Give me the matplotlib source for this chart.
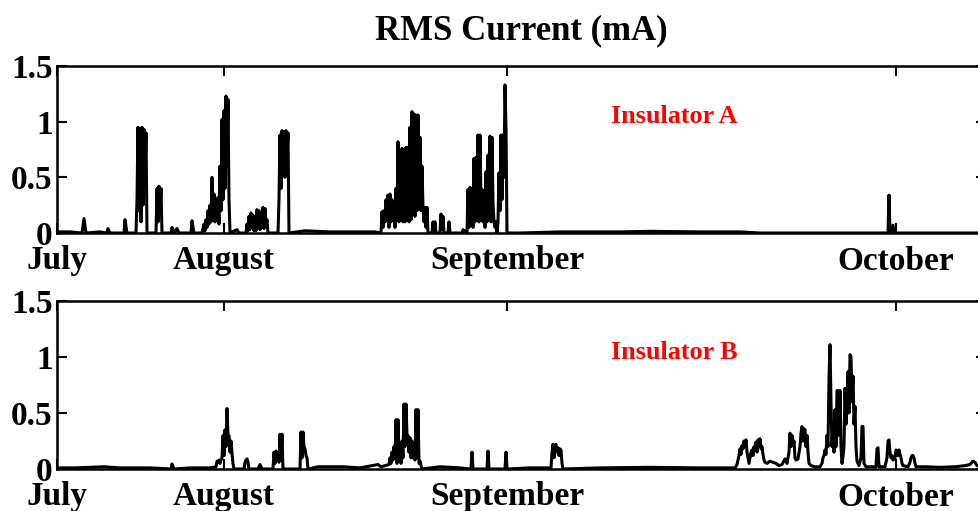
import numpy as np
import matplotlib
matplotlib.use("Agg")
import matplotlib.pyplot as plt

# RMS leakage current of two insulators, July - October
# x is the record number, y is the RMS current in mA
t_a = [0, 13, 25, 27, 29, 43, 50, 51, 53, 67, 68, 70,
       79, 80, 81, 82, 83, 84, 85, 86, 87, 88, 89, 90,
       99, 100, 101, 102, 103, 104, 105, 114, 115, 117, 120, 122, 134, 135, 137,
       145, 147, 148, 149, 150, 151, 152, 153, 154, 155, 156, 157, 158, 159, 160,
       161, 162, 163, 164, 165, 166, 167, 168, 169, 170, 171, 172, 173, 180, 182,
       189, 190, 191, 192, 193, 194, 195, 196, 197, 198, 199, 200, 201, 202, 203,
       204, 205, 206, 207, 208, 209, 210, 211,
       221, 222, 223, 224, 225, 226, 227, 228, 229, 230, 231, 232,
       248, 273, 303, 318, 324, 325, 326, 327, 328, 329, 330, 331, 332, 333, 334,
       335, 336, 337, 338, 339, 340, 341, 342, 343, 344, 345, 346, 347, 348, 349,
       350, 351, 352, 353, 354, 355, 356, 357, 358, 359, 360, 361, 362, 363, 364,
       365, 366, 367, 368, 369, 370, 371, 375, 376, 377, 378, 379, 383, 384, 385,
       386, 387, 391, 392, 393, 405, 406, 410, 411, 412, 413, 414, 415, 416, 417,
       418, 419, 420, 421, 422, 423, 424, 425, 426, 427, 428, 429, 430, 431, 432,
       433, 434, 435, 436, 437, 438, 439, 440, 441, 442, 443, 444, 445, 446, 447,
       448, 449, 450, 463, 503, 563, 593, 643, 683, 703, 831, 832, 833, 836, 837,
       929]
rms_a = [0.01, 0.01, 0.0, 0.13, 0.0, 0.01, 0.0, 0.04, 0.0, 0.0, 0.12, 0.0,
         0.0, 0.3, 0.95, 0.2, 0.94, 0.1, 0.95, 0.25, 0.93, 0.5, 0.9, 0.0,
         0.0, 0.4, 0.1, 0.42, 0.2, 0.4, 0.0, 0.0, 0.05, 0.0, 0.04, 0.0, 0.0, 0.11, 0.0,
         0.0, 0.08, 0.02, 0.12, 0.05, 0.2, 0.08, 0.25, 0.1, 0.5, 0.12, 0.35, 0.1, 0.3, 0.12,
         0.32, 0.08, 0.6, 0.2, 1.02, 0.3, 1.1, 0.4, 1.23, 0.6, 1.2, 0.3, 0.0, 0.03, 0.0,
         0.0, 0.08, 0.02, 0.15, 0.03, 0.18, 0.05, 0.16, 0.02, 0.1, 0.02, 0.21, 0.05, 0.2, 0.03,
         0.15, 0.05, 0.23, 0.04, 0.22, 0.08, 0.12, 0.0,
         0.0, 0.3, 0.88, 0.4, 0.92, 0.6, 0.91, 0.5, 0.92, 0.7, 0.9, 0.0,
         0.02, 0.01, 0.01, 0.01, 0.0, 0.19, 0.05, 0.2, 0.1, 0.3, 0.15, 0.34, 0.05, 0.35, 0.1,
         0.3, 0.15, 0.25, 0.05, 0.4, 0.12, 0.82, 0.1, 0.7, 0.15, 0.76, 0.1, 0.75, 0.1, 0.77,
         0.12, 0.77, 0.1, 0.95, 0.12, 1.09, 0.2, 1.07, 0.15, 1.06, 0.2, 1.06, 0.25, 0.86, 0.2,
         0.6, 0.23, 0.1, 0.23, 0.05, 0.23, 0.0, 0.0, 0.1, 0.02, 0.1, 0.0, 0.0, 0.17, 0.03,
         0.15, 0.0, 0.0, 0.1, 0.0, 0.0, 0.03, 0.0, 0.39, 0.05, 0.41, 0.1, 0.4, 0.05, 0.67,
         0.1, 0.68, 0.2, 0.88, 0.1, 0.88, 0.3, 0.39, 0.1, 0.38, 0.05, 0.55, 0.1, 0.7, 0.2,
         0.87, 0.1, 0.86, 0.26, 0.1, 0.05, 0.1, 0.0, 0.1, 0.54, 0.2, 0.88, 0.3, 0.88, 0.5,
         1.33, 0.94, 0.0, 0.0, 0.01, 0.01, 0.015, 0.01, 0.01, 0.0, 0.0, 0.34, 0.0, 0.07, 0.0,
         0.0]

t_b = [0, 18, 33, 47, 63, 78, 93, 114, 115, 117, 133, 153,
       159, 160, 161, 162, 163, 164, 165, 166, 167, 168, 169, 170, 171, 172, 173, 174,
       175, 176, 177, 187, 188, 189, 190, 191, 192, 201, 203, 205,
       216, 217, 218, 219, 220, 221, 222, 223, 224, 225, 226,
       243, 244, 245, 246, 247, 248, 249, 250, 251, 261, 286, 303, 321, 324, 328,
       332, 333, 334, 335, 336, 337, 338, 339, 340, 341, 342, 343, 344, 345, 346,
       347, 348, 349, 350, 351, 352, 353, 354, 355, 356, 357, 358, 359, 360, 361,
       362, 363, 364, 365, 383, 403, 414, 415, 416, 430, 431, 432, 448, 449, 450,
       473, 494, 495, 496, 497, 498, 499, 500, 501, 502, 503, 504, 505, 506,
       543, 593, 643, 678, 680, 682, 683, 684, 685, 686, 687, 688, 689, 690, 691,
       692, 693, 694, 695, 696, 697, 698, 699, 700, 701, 702, 703, 704, 705, 706,
       707, 708, 710, 713, 716, 719, 722, 725, 728, 730, 732, 733, 734, 735, 736,
       737, 738, 739, 741, 743, 744, 745, 746, 747, 748, 749, 750, 751, 752, 754,
       758, 763, 765, 766, 767, 768, 769, 770, 771, 772, 773, 774, 775, 776, 777,
       778, 779, 780, 781, 782, 783, 784, 785, 786, 787, 788, 789, 790, 791, 792,
       793, 794, 795, 796, 797, 798, 799, 800, 802, 804, 805, 806, 807, 809, 813,
       819, 820, 821, 822, 828, 830, 831, 832, 833, 834, 835, 836, 838, 839, 840,
       841, 842, 843, 844, 845, 846, 851, 853, 854, 855, 856, 857, 858, 859, 868,
       883, 898, 908, 913, 916, 918, 920, 929]
rms_b = [0.01, 0.01, 0.015, 0.02, 0.01, 0.01, 0.01, 0.0, 0.045, 0.0, 0.01, 0.01,
         0.02, 0.07, 0.06, 0.08, 0.05, 0.08, 0.1, 0.3, 0.12, 0.35, 0.2, 0.54, 0.3, 0.3, 0.15, 0.25,
         0.14, 0.05, 0.0, 0.0, 0.06, 0.08, 0.09, 0.06, 0.0, 0.0, 0.04, 0.0,
         0.0, 0.15, 0.05, 0.16, 0.08, 0.1, 0.06, 0.31, 0.08, 0.31, 0.0,
         0.0, 0.33, 0.1, 0.33, 0.2, 0.18, 0.12, 0.1, 0.0, 0.02, 0.02, 0.01, 0.04, 0.02, 0.03,
         0.04, 0.1, 0.05, 0.15, 0.08, 0.2, 0.1, 0.44, 0.05, 0.44, 0.1, 0.2, 0.05, 0.25, 0.1,
         0.58, 0.2, 0.58, 0.3, 0.3, 0.15, 0.28, 0.1, 0.25, 0.1, 0.2, 0.08, 0.53, 0.1, 0.53,
         0.05, 0.07, 0.03, 0.0, 0.02, 0.01, 0.0, 0.15, 0.0, 0.0, 0.16, 0.0, 0.0, 0.15, 0.0,
         0.01, 0.01, 0.15, 0.22, 0.1, 0.21, 0.22, 0.15, 0.19, 0.12, 0.18, 0.17, 0.05, 0.0,
         0.01, 0.015, 0.01, 0.01, 0.04, 0.12, 0.18, 0.13, 0.21, 0.18, 0.25, 0.2, 0.26, 0.15, 0.1,
         0.05, 0.1, 0.15, 0.17, 0.12, 0.2, 0.17, 0.24, 0.15, 0.26, 0.2, 0.27, 0.18, 0.2, 0.13,
         0.08, 0.06, 0.05, 0.07, 0.06, 0.05, 0.03, 0.04, 0.09, 0.05, 0.15, 0.32, 0.2, 0.3, 0.21,
         0.25, 0.1, 0.08, 0.09, 0.2, 0.32, 0.38, 0.25, 0.36, 0.35, 0.2, 0.3, 0.15, 0.05, 0.03,
         0.02, 0.02, 0.05, 0.1, 0.12, 0.17, 0.13, 0.3, 0.2, 0.8, 1.11, 0.6, 0.2, 0.39, 0.15,
         0.53, 0.2, 0.7, 0.7, 0.3, 0.7, 0.2, 0.05, 0.11, 0.2, 0.72, 0.4, 0.6, 0.87, 0.5,
         1.02, 1.0, 0.6, 0.83, 0.4, 0.56, 0.2, 0.07, 0.03, 0.1, 0.38, 0.38, 0.05, 0.02, 0.02,
         0.02, 0.18, 0.19, 0.02, 0.02, 0.1, 0.25, 0.26, 0.15, 0.1, 0.12, 0.08, 0.1, 0.17, 0.16,
         0.12, 0.17, 0.13, 0.1, 0.05, 0.03, 0.02, 0.06, 0.1, 0.12, 0.12, 0.1, 0.05, 0.02, 0.02,
         0.015, 0.02, 0.03, 0.04, 0.07, 0.06, 0.03, 0.03]

# record numbers where each month starts
month_pos = [0, 167, 450, 839]
month_names = ["July", "August", "September", "October"]
y_ticks = [0, 0.5, 1, 1.5]
y_labels = ["0", "0.5", "1", "1.5"]

plt.rcParams['font.family'] = ['Liberation Serif', 'DejaVu Serif']
plt.rcParams['font.weight'] = 'bold'

W, H = 979, 511
fig = plt.figure(figsize=(W / 100, H / 100), dpi=100)

def px_axes(left, top, right, bottom):
    return fig.add_axes([left / W, 1 - bottom / H, (right - left) / W, (bottom - top) / H])

ax_a = px_axes(57, 66, 986, 233)
ax_b = px_axes(57, 301, 986, 469)

for ax, t, rms, name in [(ax_a, t_a, rms_a, "Insulator A"), (ax_b, t_b, rms_b, "Insulator B")]:
    ax.plot(t, rms, color='black', linewidth=2.2)
    ax.set_xlim(0, 929)
    ax.set_ylim(0, 1.5)
    ax.set_xticks(month_pos)
    ax.set_xticklabels(month_names)
    ax.set_yticks(y_ticks)
    ax.set_yticklabels(y_labels)
    ax.tick_params(direction='in', top=True, right=True, length=7, width=1.5,
                   labelsize=24, pad=3)
    ax.tick_params(axis='x', pad=9)
    for s in ax.spines.values():
        s.set_linewidth(1.8)
    ax.text(0.664, 0.695, name, transform=ax.transAxes, color='red',
            fontsize=18.8, fontweight='bold', ha='center', va='center')

fig.text(521 / W, 1 - 31 / H, "RMS Current (mA)", ha='center', va='center',
         fontsize=25, fontweight='bold')

fig.savefig("out.png", dpi=100)
